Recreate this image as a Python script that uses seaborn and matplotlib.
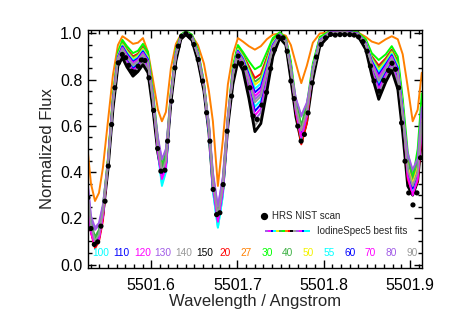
import matplotlib
matplotlib.use('Agg')
import matplotlib.pyplot as plt
import matplotlib.ticker as mticker
import seaborn as sns
import numpy as np

# HRS NIST scan (black dots)
scan_wave = [5501.5266, 5501.5301, 5501.5340, 5501.5379, 5501.5417, 5501.5464, 5501.5502, 5501.5541,
             5501.5579, 5501.5618, 5501.5664, 5501.5703, 5501.5738, 5501.5773, 5501.5811, 5501.5848,
             5501.5886, 5501.5927, 5501.5973, 5501.6028, 5501.6074, 5501.6112, 5501.6159, 5501.6190,
             5501.6236, 5501.6275, 5501.6313, 5501.6352, 5501.6402, 5501.6448, 5501.6495, 5501.6545,
             5501.6596, 5501.6642, 5501.6680, 5501.6718, 5501.6758, 5501.6796, 5501.6834, 5501.6881,
             5501.6932, 5501.6970, 5501.7008, 5501.7047, 5501.7086, 5501.7144, 5501.7182, 5501.7228,
             5501.7283, 5501.7337, 5501.7385, 5501.7428, 5501.7474, 5501.7529, 5501.7576, 5501.7619,
             5501.7657, 5501.7699, 5501.7738, 5501.7776, 5501.7819, 5501.7868, 5501.7916, 5501.7969,
             5501.8022, 5501.8080, 5501.8134, 5501.8189, 5501.8244, 5501.8302, 5501.8354, 5501.8404,
             5501.8456, 5501.8503, 5501.8542, 5501.8584, 5501.8642, 5501.8696, 5501.8752, 5501.8792,
             5501.8832, 5501.8870, 5501.8903, 5501.8943, 5501.8986, 5501.9035, 5501.9081, 5501.9123]
scan_flux = [0.290, 0.156, 0.087, 0.098, 0.166, 0.274, 0.426, 0.606,
             0.765, 0.873, 0.909, 0.895, 0.862, 0.837, 0.833, 0.858,
             0.885, 0.883, 0.808, 0.667, 0.502, 0.404, 0.408, 0.534,
             0.707, 0.851, 0.945, 0.988, 0.999, 0.988, 0.952, 0.887,
             0.794, 0.657, 0.534, 0.325, 0.216, 0.224, 0.346, 0.577,
             0.729, 0.859, 0.902, 0.870, 0.851, 0.765, 0.642, 0.628,
             0.690, 0.745, 0.848, 0.930, 0.985, 0.981, 0.923, 0.794,
             0.718, 0.599, 0.534, 0.563, 0.656, 0.786, 0.898, 0.952,
             0.981, 0.996, 0.993, 0.995, 0.995, 0.995, 0.993, 0.985,
             0.965, 0.923, 0.859, 0.794, 0.750, 0.797, 0.840, 0.871,
             0.845, 0.765, 0.613, 0.447, 0.310, 0.258, 0.310, 0.462]

# IodineSpec5 best fits, one list per cell temperature
model_wave = [5501.5267, 5501.5301, 5501.5348, 5501.5394, 5501.5440, 5501.5498, 5501.5556, 5501.5614,
              5501.5666, 5501.5718, 5501.5788, 5501.5846, 5501.5904, 5501.5962, 5501.6020, 5501.6078,
              5501.6124, 5501.6170, 5501.6228, 5501.6286, 5501.6344, 5501.6402, 5501.6472, 5501.6541,
              5501.6611, 5501.6669, 5501.6715, 5501.6773, 5501.6831, 5501.6889, 5501.6947, 5501.7005,
              5501.7063, 5501.7132, 5501.7202, 5501.7271, 5501.7341, 5501.7410, 5501.7491, 5501.7561,
              5501.7619, 5501.7677, 5501.7740, 5501.7804, 5501.7874, 5501.7955, 5501.8071, 5501.8244,
              5501.8395, 5501.8488, 5501.8557, 5501.8638, 5501.8720, 5501.8789, 5501.8859, 5501.8916,
              5501.8974, 5501.9032, 5501.9090, 5501.9137]

fit_100 = [0.29, 0.16, 0.10, 0.12, 0.22, 0.43, 0.695, 0.884, 0.926, 0.891, 0.855, 0.871, 0.901, 0.866, 0.702,
           0.48, 0.34, 0.40, 0.72, 0.90, 0.983, 1.001, 0.98, 0.90, 0.766, 0.57, 0.32, 0.16, 0.30, 0.615,
           0.812, 0.908, 0.872, 0.784, 0.683, 0.71, 0.818, 0.932, 0.99, 0.962, 0.832, 0.66, 0.545, 0.645,
           0.828, 0.961, 1.001, 1.005, 0.996, 0.948, 0.858, 0.783, 0.838, 0.882, 0.816, 0.63, 0.39, 0.32,
           0.39, 0.60]
fit_110 = [0.29, 0.15, 0.085, 0.115, 0.215, 0.43, 0.69, 0.88, 0.92, 0.885, 0.848, 0.865, 0.895, 0.86, 0.696,
           0.49, 0.375, 0.43, 0.717, 0.897, 0.982, 1.0, 0.978, 0.897, 0.763, 0.58, 0.345, 0.19, 0.325, 0.615,
           0.806, 0.903, 0.866, 0.773, 0.664, 0.693, 0.806, 0.926, 0.988, 0.96, 0.826, 0.66, 0.56, 0.65,
           0.823, 0.958, 1.0, 1.004, 0.995, 0.945, 0.851, 0.771, 0.83, 0.875, 0.806, 0.62, 0.38, 0.33,
           0.39, 0.60]
fit_120 = [0.28, 0.14, 0.08, 0.11, 0.21, 0.42, 0.685, 0.876, 0.915, 0.878, 0.841, 0.858, 0.888, 0.853, 0.691,
           0.48, 0.365, 0.42, 0.713, 0.893, 0.98, 0.999, 0.977, 0.893, 0.76, 0.575, 0.34, 0.185, 0.32, 0.61,
           0.801, 0.898, 0.861, 0.762, 0.645, 0.675, 0.794, 0.921, 0.987, 0.958, 0.821, 0.655, 0.55, 0.645,
           0.818, 0.955, 0.999, 1.003, 0.994, 0.942, 0.845, 0.759, 0.821, 0.867, 0.796, 0.609, 0.37, 0.30,
           0.37, 0.58]
fit_130 = [0.33, 0.20, 0.15, 0.17, 0.25, 0.42, 0.68, 0.871, 0.91, 0.872, 0.834, 0.852, 0.882, 0.847, 0.685,
           0.54, 0.45, 0.49, 0.71, 0.89, 0.979, 0.998, 0.975, 0.89, 0.758, 0.61, 0.39, 0.245, 0.375, 0.64,
           0.795, 0.893, 0.855, 0.75, 0.626, 0.658, 0.782, 0.915, 0.985, 0.956, 0.815, 0.715, 0.64, 0.695,
           0.813, 0.953, 0.998, 1.002, 0.993, 0.939, 0.838, 0.747, 0.813, 0.86, 0.787, 0.599, 0.47, 0.40,
           0.45, 0.67]
fit_140 = [0.30, 0.17, 0.095, 0.125, 0.22, 0.415, 0.675, 0.866, 0.903, 0.864, 0.825, 0.844, 0.874, 0.839, 0.678,
           0.50, 0.40, 0.45, 0.705, 0.885, 0.977, 0.997, 0.973, 0.885, 0.754, 0.585, 0.35, 0.21, 0.335, 0.61,
           0.788, 0.887, 0.848, 0.736, 0.602, 0.635, 0.767, 0.908, 0.983, 0.953, 0.808, 0.67, 0.575, 0.655,
           0.807, 0.949, 0.997, 1.001, 0.992, 0.935, 0.83, 0.732, 0.802, 0.851, 0.774, 0.585, 0.39, 0.335,
           0.39, 0.60]
fit_150 = [0.29, 0.16, 0.085, 0.12, 0.215, 0.41, 0.67, 0.86, 0.895, 0.855, 0.815, 0.835, 0.865, 0.83, 0.67,
           0.48, 0.395, 0.44, 0.70, 0.88, 0.975, 0.995, 0.97, 0.88, 0.75, 0.57, 0.34, 0.21, 0.33, 0.60,
           0.78, 0.88, 0.84, 0.72, 0.575, 0.61, 0.75, 0.90, 0.98, 0.95, 0.80, 0.64, 0.53, 0.62,
           0.80, 0.945, 0.995, 1.0, 0.99, 0.93, 0.82, 0.715, 0.79, 0.84, 0.76, 0.57, 0.34, 0.30,
           0.36, 0.56]
fit_20 = [0.28, 0.14, 0.07, 0.10, 0.19, 0.45, 0.72, 0.912, 0.961, 0.932, 0.901, 0.912, 0.942, 0.907, 0.739,
          0.50, 0.38, 0.43, 0.743, 0.923, 0.992, 1.008, 0.992, 0.923, 0.784, 0.58, 0.33, 0.18, 0.31, 0.62,
          0.849, 0.94, 0.909, 0.858, 0.807, 0.825, 0.896, 0.969, 1.001, 0.976, 0.869, 0.66, 0.52, 0.61,
          0.86, 0.979, 1.008, 1.011, 1.003, 0.969, 0.902, 0.861, 0.893, 0.93, 0.88, 0.699, 0.37, 0.31,
          0.36, 0.56]
fit_27 = [0.48, 0.35, 0.275, 0.31, 0.42, 0.62, 0.82, 0.95, 0.988, 0.975, 0.955, 0.96, 0.98, 0.92, 0.80,
          0.67, 0.62, 0.66, 0.85, 0.955, 0.995, 1.005, 0.99, 0.95, 0.87, 0.75, 0.62, 0.34, 0.54, 0.78,
          0.91, 0.98, 0.965, 0.945, 0.93, 0.945, 0.975, 0.995, 1.0, 0.99, 0.95, 0.87, 0.785, 0.86,
          0.96, 1.0, 1.005, 1.012, 1.005, 0.985, 0.965, 0.955, 0.975, 0.988, 0.975, 0.91, 0.77, 0.62,
          0.67, 0.83]
fit_30 = [0.31, 0.17, 0.11, 0.14, 0.25, 0.46, 0.73, 0.92, 0.972, 0.945, 0.915, 0.925, 0.955, 0.92, 0.75,
          0.54, 0.43, 0.48, 0.75, 0.93, 0.995, 1.01, 0.995, 0.93, 0.79, 0.60, 0.38, 0.20, 0.36, 0.64,
          0.86, 0.95, 0.92, 0.88, 0.845, 0.86, 0.92, 0.98, 1.005, 0.98, 0.88, 0.71, 0.60, 0.69,
          0.87, 0.985, 1.01, 1.012, 1.005, 0.975, 0.915, 0.885, 0.91, 0.945, 0.90, 0.72, 0.49, 0.37,
          0.50, 0.74]
fit_40 = [0.31, 0.18, 0.12, 0.15, 0.25, 0.45, 0.72, 0.908, 0.957, 0.927, 0.895, 0.907, 0.937, 0.902, 0.734,
          0.53, 0.42, 0.47, 0.74, 0.92, 0.991, 1.007, 0.99, 0.92, 0.782, 0.60, 0.38, 0.205, 0.36, 0.64,
          0.844, 0.936, 0.904, 0.848, 0.791, 0.81, 0.886, 0.964, 1.0, 0.974, 0.864, 0.70, 0.60, 0.68,
          0.856, 0.977, 1.007, 1.01, 1.002, 0.966, 0.896, 0.851, 0.886, 0.924, 0.872, 0.69, 0.46, 0.36,
          0.44, 0.66]
fit_50 = [0.29, 0.15, 0.09, 0.12, 0.22, 0.45, 0.715, 0.905, 0.953, 0.923, 0.89, 0.903, 0.933, 0.898, 0.73,
          0.51, 0.39, 0.44, 0.738, 0.918, 0.99, 1.006, 0.989, 0.918, 0.78, 0.59, 0.35, 0.19, 0.33, 0.63,
          0.84, 0.933, 0.90, 0.84, 0.778, 0.798, 0.878, 0.96, 0.999, 0.973, 0.86, 0.68, 0.57, 0.66,
          0.853, 0.975, 1.006, 1.009, 1.001, 0.964, 0.891, 0.843, 0.88, 0.919, 0.865, 0.683, 0.42, 0.35,
          0.42, 0.63]
fit_55 = [0.29, 0.16, 0.095, 0.12, 0.22, 0.44, 0.71, 0.901, 0.948, 0.917, 0.884, 0.897, 0.927, 0.892, 0.725,
          0.49, 0.35, 0.41, 0.735, 0.915, 0.989, 1.005, 0.987, 0.915, 0.778, 0.57, 0.32, 0.16, 0.30, 0.62,
          0.835, 0.928, 0.895, 0.83, 0.761, 0.783, 0.867, 0.955, 0.997, 0.971, 0.855, 0.67, 0.545, 0.645,
          0.848, 0.973, 1.005, 1.008, 1.0, 0.961, 0.886, 0.832, 0.873, 0.912, 0.857, 0.674, 0.40, 0.32,
          0.39, 0.60]
fit_60 = [0.29, 0.15, 0.09, 0.12, 0.22, 0.44, 0.71, 0.898, 0.944, 0.912, 0.878, 0.892, 0.922, 0.887, 0.72,
          0.50, 0.38, 0.43, 0.732, 0.912, 0.988, 1.004, 0.986, 0.912, 0.775, 0.58, 0.345, 0.19, 0.325, 0.625,
          0.83, 0.924, 0.89, 0.821, 0.745, 0.768, 0.857, 0.95, 0.996, 0.969, 0.85, 0.67, 0.56, 0.65,
          0.844, 0.97, 1.004, 1.008, 1.0, 0.958, 0.88, 0.822, 0.866, 0.906, 0.848, 0.665, 0.40, 0.33,
          0.40, 0.61]
fit_70 = [0.28, 0.14, 0.08, 0.11, 0.21, 0.44, 0.705, 0.894, 0.939, 0.906, 0.872, 0.886, 0.916, 0.881, 0.716,
          0.49, 0.37, 0.42, 0.729, 0.909, 0.986, 1.004, 0.984, 0.909, 0.773, 0.58, 0.34, 0.185, 0.32, 0.62,
          0.826, 0.92, 0.886, 0.811, 0.729, 0.753, 0.847, 0.946, 0.994, 0.967, 0.846, 0.665, 0.55, 0.645,
          0.84, 0.968, 1.004, 1.007, 0.999, 0.956, 0.874, 0.812, 0.858, 0.90, 0.84, 0.656, 0.38, 0.30,
          0.37, 0.58]
fit_80 = [0.34, 0.21, 0.16, 0.18, 0.26, 0.44, 0.70, 0.891, 0.935, 0.902, 0.867, 0.882, 0.912, 0.877, 0.712,
          0.55, 0.455, 0.50, 0.726, 0.906, 0.985, 1.003, 0.983, 0.906, 0.771, 0.61, 0.40, 0.25, 0.38, 0.65,
          0.822, 0.916, 0.882, 0.803, 0.715, 0.74, 0.838, 0.942, 0.993, 0.966, 0.842, 0.72, 0.645, 0.70,
          0.836, 0.966, 1.003, 1.006, 0.998, 0.953, 0.869, 0.803, 0.852, 0.895, 0.833, 0.648, 0.48, 0.41,
          0.46, 0.68]
fit_90 = [0.30, 0.17, 0.10, 0.13, 0.23, 0.43, 0.70, 0.888, 0.931, 0.897, 0.862, 0.877, 0.907, 0.872, 0.708,
          0.51, 0.40, 0.45, 0.724, 0.904, 0.984, 1.002, 0.982, 0.904, 0.769, 0.59, 0.36, 0.21, 0.34, 0.625,
          0.818, 0.913, 0.878, 0.795, 0.702, 0.728, 0.83, 0.938, 0.992, 0.964, 0.838, 0.68, 0.58, 0.66,
          0.833, 0.964, 1.002, 1.006, 0.997, 0.951, 0.865, 0.795, 0.846, 0.889, 0.826, 0.641, 0.41, 0.34,
          0.40, 0.61]

labels = ['100', '110', '120', '130', '140', '150', '20', '27',
          '30', '40', '50', '55', '60', '70', '80', '90']
fits = [fit_100, fit_110, fit_120, fit_130, fit_140, fit_150, fit_20, fit_27,
        fit_30, fit_40, fit_50, fit_55, fit_60, fit_70, fit_80, fit_90]
colors = ['#00FFFF', '#0000FF', '#FF00FF', '#A05AE6', '#999999', '#000000', '#FF0000', '#FF8000',
          '#00FF00', '#3CB043', '#F2F200', '#00FFFF', '#0000FF', '#FF00FF', '#A05AE6', '#999999']

sns.set_style('ticks')
plt.rcParams['font.family'] = ['Liberation Sans', 'DejaVu Sans']

fig = plt.figure(figsize=(4.5, 3.25), dpi=100)
ax = fig.add_axes([0.1956, 0.1754, 0.7422, 0.7323])

for lab, vals, col in zip(labels, fits, colors):
    lw = 2.0 if lab == '150' else 1.4
    sns.lineplot(x=model_wave, y=vals, color=col, linewidth=lw, ax=ax,
                 estimator=None, sort=False, legend=False)

sns.scatterplot(x=scan_wave, y=scan_flux, color='black', s=14, edgecolor='none',
                ax=ax, zorder=5, legend=False, clip_on=True)

ax.set_xlim(5501.5267, 5501.914)
ax.set_ylim(-0.015, 1.015)
ax.xaxis.set_major_locator(mticker.MultipleLocator(0.1))
ax.xaxis.set_minor_locator(mticker.MultipleLocator(0.01))
ax.xaxis.set_major_formatter(mticker.FormatStrFormatter('%.1f'))
ax.yaxis.set_major_locator(mticker.MultipleLocator(0.2))
ax.yaxis.set_minor_locator(mticker.MultipleLocator(0.05))
ax.yaxis.set_major_formatter(mticker.FormatStrFormatter('%.1f'))
ax.tick_params(which='both', direction='in', top=True, right=True, width=1.0, colors='black')
ax.tick_params(which='major', length=6, labelsize=11.5)
ax.tick_params(which='minor', length=3)
ax.tick_params(axis='x', which='major', pad=7)
ax.tick_params(axis='y', which='major', pad=4)
for sp in ax.spines.values():
    sp.set_linewidth(1.0)
    sp.set_color('black')

ax.set_xlabel('Wavelength / Angstrom', fontsize=12, labelpad=1)
ax.set_ylabel('Normalized Flux', fontsize=12, labelpad=4)

# legend drawn by hand
ax.scatter([0.527], [0.218], s=18, color='black', transform=ax.transAxes, zorder=6)
ax.text(0.551, 0.218, 'HRS NIST scan', transform=ax.transAxes, fontsize=7, va='center', ha='left')
seg = np.linspace(0.530, 0.665, len(colors) + 1)
leg_cols = ['#A05AE6', '#FF00FF', '#0000FF', '#00FFFF', '#F2F200', '#3CB043', '#00FF00', '#FF8000',
            '#FF0000', '#000000', '#999999', '#A05AE6', '#FF00FF', '#0000FF', '#00FFFF', '#00FFFF']
for i, col in enumerate(leg_cols):
    ax.plot([seg[i], seg[i + 1]], [0.157, 0.157], color=col, lw=1.4, transform=ax.transAxes,
            solid_capstyle='butt')
ax.text(0.686, 0.157, 'IodineSpec5 best fits', transform=ax.transAxes, fontsize=7,
        va='center', ha='left')

# temperature labels along the bottom
for xpos, lab, col in zip(np.linspace(0.039, 0.970, len(labels)), labels, colors):
    ax.text(xpos, 0.063, lab, transform=ax.transAxes, color=col, fontsize=7.3,
            ha='center', va='center')

fig.savefig('out.png', dpi=100)
